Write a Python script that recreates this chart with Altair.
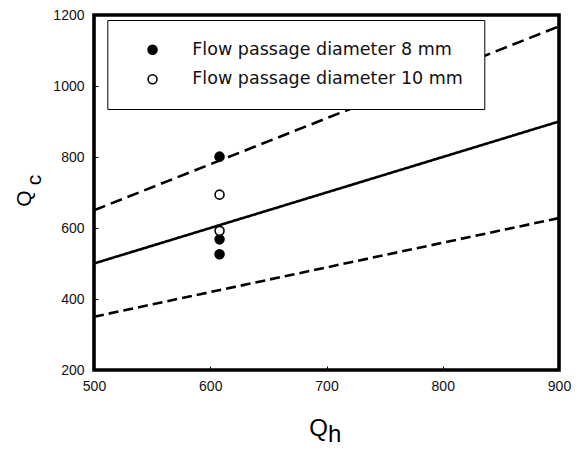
import altair as alt
import pandas as pd

# ---- data ----
line_x = [500, 900]
upper_y = [650, 1168]    # dashed upper bound
middle_y = [500, 900]    # solid line
lower_y = [350, 628]     # dashed lower bound

series_8mm_x = [608, 608, 608]
series_8mm_y = [801, 568, 526]
series_10mm_x = [608, 608]
series_10mm_y = [694, 592]

x_ticks = [500, 600, 700, 800, 900]
y_ticks = [200, 400, 600, 800, 1000, 1200]

label_8 = "Flow passage diameter 8 mm"
label_10 = "Flow passage diameter 10 mm"

W, H = 465, 355

lines_df = pd.DataFrame({
    "Qh": line_x * 3,
    "Qc": upper_y + middle_y + lower_y,
    "band": ["upper"] * 2 + ["middle"] * 2 + ["lower"] * 2,
})
pts_df = pd.DataFrame({
    "Qh": series_8mm_x + series_10mm_x,
    "Qc": series_8mm_y + series_10mm_y,
    "series": [label_8] * len(series_8mm_x) + [label_10] * len(series_10mm_x),
})

xscale = alt.Scale(domain=[500, 900], nice=False, zero=False)
yscale = alt.Scale(domain=[200, 1200], nice=False, zero=False)

label_axis_x = alt.Axis(values=x_ticks, ticks=False, domain=False, grid=False, title=None,
                        format="d", labelFont="Liberation Sans", labelFontSize=14,
                        labelColor="#111", labelPadding=9, labelFlush=False)
label_axis_y = alt.Axis(values=y_ticks, ticks=False, domain=False, grid=False, title=None,
                        format="d", labelFont="Liberation Sans", labelFontSize=14,
                        labelColor="#111", labelPadding=10)
tick_axis_x = alt.Axis(values=x_ticks, orient="top", offset=-H, labels=False, domain=False,
                       grid=False, title=None, tickSize=4, tickWidth=1, tickColor="black")
tick_axis_y = alt.Axis(values=y_ticks, orient="right", offset=-W, labels=False, domain=False,
                       grid=False, title=None, tickSize=4, tickWidth=1, tickColor="black")

lines = alt.Chart(lines_df).mark_line(color="black", strokeWidth=2.6).encode(
    x=alt.X("Qh:Q", scale=xscale, axis=tick_axis_x),
    y=alt.Y("Qc:Q", scale=yscale, axis=tick_axis_y),
    strokeDash=alt.StrokeDash("band:N",
                              scale=alt.Scale(domain=["upper", "middle", "lower"],
                                              range=[[12, 6], [1, 0], [10, 5]]),
                              legend=None),
    detail="band:N",
)

points = alt.Chart(pts_df).mark_circle(size=80, stroke="black", strokeWidth=1.6, opacity=1).encode(
    x=alt.X("Qh:Q", scale=xscale, axis=label_axis_x),
    y=alt.Y("Qc:Q", scale=yscale, axis=label_axis_y),
    fill=alt.Fill("series:N",
                  scale=alt.Scale(domain=[label_8, label_10], range=["black", "white"]),
                  legend=alt.Legend(orient="none", legendX=13.3, legendY=5, title=None,
                                    strokeColor="black", fillColor="white", padding=21,
                                    symbolOffset=15.5, labelOffset=31, rowPadding=10.5,
                                    labelFont="DejaVu Sans", labelFontSize=17.5,
                                    labelColor="#111", labelLimit=400,
                                    symbolType="circle", symbolSize=80,
                                    symbolStrokeColor="black", symbolStrokeWidth=1.6,
                                    symbolOpacity=1)),
)

one = pd.DataFrame({"k": [0]})
def glyph(txt, x, y, size, angle=0):
    return alt.Chart(one).mark_text(text=txt, font="Liberation Sans", fontSize=size,
                                    color="black", align="left", baseline="alphabetic",
                                    angle=angle).encode(x=alt.value(x), y=alt.value(y))

titles = (glyph("Q", 215.3, 421, 24) + glyph("h", 233.9, 426.5, 24)
          + glyph("Q", -63.2, 191.7, 21, 270) + glyph("c", -52.7, 170.3, 21, 270))

chart = alt.layer(lines, points, titles).resolve_axis(
    x="independent", y="independent"
).properties(
    width=W, height=H,
    background="white",
    autosize=alt.AutoSizeParams(type="none"),
    padding={"left": 86, "top": 7, "right": 20, "bottom": 77},
).configure_view(stroke="black", strokeWidth=3.6)

chart.save("out.html", embed_options={"renderer": "svg", "actions": False})
